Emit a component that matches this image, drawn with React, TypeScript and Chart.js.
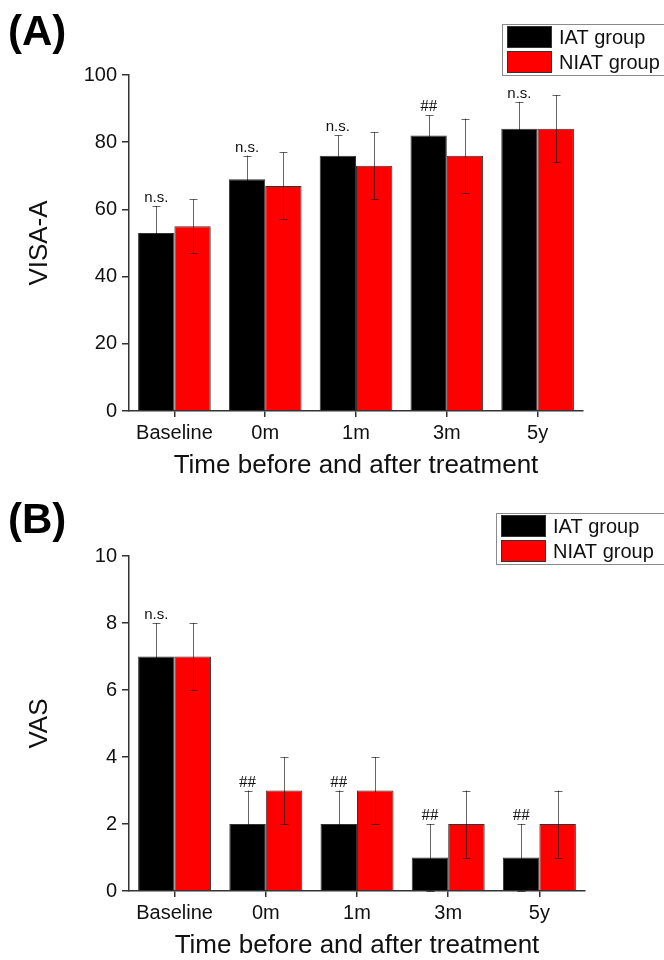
import React, { useEffect, useRef } from "react";
import { Chart, registerables } from "chart.js";

Chart.register(...registerables);

// ---------- data ----------
const categories = ["Baseline", "0m", "1m", "3m", "5y"];
const seriesNames = ["IAT group", "NIAT group"];
const seriesColors = ["#000000", "#FF0000"];
const xAxisTitle = "Time before and after treatment";

// Panel A: VISA-A
const visaIat = [53, 69, 76, 82, 84];
const visaIatErr = [8, 7, 6, 6, 8];
const visaNiat = [55, 67, 73, 76, 84];
const visaNiatErr = [8, 10, 10, 11, 10];
const visaMarks = ["n.s.", "n.s.", "n.s.", "##", "n.s."];

// Panel B: VAS
const vasIat = [7, 2, 2, 1, 1];
const vasIatErr = [1, 1, 1, 1, 1];
const vasNiat = [7, 3, 3, 2, 2];
const vasNiatErr = [1, 1, 1, 1, 1];
const vasMarks = ["n.s.", "##", "##", "##", "##"];

const FONT = "'Liberation Sans', Arial, sans-serif";
const SERIF = "'Liberation Serif', 'Times New Roman', serif";

type PanelCfg = {
  letter: string;
  letterY: number;
  yTitle: string;
  yMax: number;
  yStep: number;
  values: number[][];
  errors: number[][];
  marks: string[];
  padTop: number;
  padRight: number;
  legend: { x: number; y: number };
};

const panels: PanelCfg[] = [
  {
    letter: "(A)",
    letterY: 45,
    yTitle: "VISA-A",
    yMax: 100,
    yStep: 20,
    values: [visaIat, visaNiat],
    errors: [visaIatErr, visaNiatErr],
    marks: visaMarks,
    padTop: 75,
    padRight: 81,
    legend: { x: 502, y: 24 },
  },
  {
    letter: "(B)",
    letterY: 53,
    yTitle: "VAS",
    yMax: 10,
    yStep: 2,
    values: [vasIat, vasNiat],
    errors: [vasIatErr, vasNiatErr],
    marks: vasMarks,
    padTop: 76,
    padRight: 79,
    legend: { x: 496, y: 33 },
  },
];

function Panel({ cfg }: { cfg: PanelCfg }) {
  const ref = useRef<HTMLCanvasElement>(null);

  useEffect(() => {
    const canvas = ref.current;
    if (!canvas) return;

    const overlay = {
      id: "overlay",
      afterDatasetsDraw(chart: any) {
        const ctx = chart.ctx as CanvasRenderingContext2D;
        const yS = chart.scales.y;
        ctx.save();
        // error bars
        cfg.errors.forEach((errs, di) => {
          const meta = chart.getDatasetMeta(di);
          meta.data.forEach((bar: any, i: number) => {
            const v = cfg.values[di][i];
            const top = yS.getPixelForValue(v + errs[i]);
            const bot = yS.getPixelForValue(v - errs[i]);
            const x = Math.round(bar.x) + 0.5;
            ctx.strokeStyle = "rgba(0,0,0,0.6)";
            ctx.lineWidth = 1;
            ctx.beginPath();
            ctx.moveTo(x, top);
            ctx.lineTo(x, bot);
            ctx.moveTo(x - 4, Math.round(top) + 0.5);
            ctx.lineTo(x + 4, Math.round(top) + 0.5);
            ctx.moveTo(x - 4, Math.round(bot) + 0.5);
            ctx.lineTo(x + 4, Math.round(bot) + 0.5);
            ctx.stroke();
          });
        });
        // significance marks
        const meta0 = chart.getDatasetMeta(0);
        cfg.marks.forEach((m, i) => {
          const bar = meta0.data[i];
          const top = yS.getPixelForValue(cfg.values[0][i] + cfg.errors[0][i]);
          ctx.font = m === "##" ? `17px ${SERIF}` : `15px ${FONT}`;
          ctx.fillStyle = "#111";
          ctx.textAlign = "center";
          ctx.textBaseline = "alphabetic";
          ctx.fillText(m, bar.x, top - 4);
        });
        ctx.restore();
      },
      afterDraw(chart: any) {
        const ctx = chart.ctx as CanvasRenderingContext2D;
        ctx.save();
        // panel letter
        ctx.font = `bold 42px ${FONT}`;
        ctx.fillStyle = "#000";
        ctx.textAlign = "left";
        ctx.textBaseline = "alphabetic";
        ctx.fillText(cfg.letter, 8, cfg.letterY);
        // legend
        const lg = cfg.legend;
        ctx.fillStyle = "#fff";
        ctx.fillRect(lg.x, lg.y, 180, 51);
        ctx.strokeStyle = "#8a8a8a";
        ctx.lineWidth = 1;
        ctx.strokeRect(lg.x + 0.5, lg.y + 0.5, 180, 51);
        chart.data.datasets.forEach((ds: any, i: number) => {
          const sy = lg.y + 2 + i * 25;
          ctx.fillStyle = ds.backgroundColor;
          ctx.fillRect(lg.x + 5, sy, 45, 22);
          ctx.strokeStyle = "#333";
          ctx.strokeRect(lg.x + 5.5, sy + 0.5, 44, 21);
          ctx.fillStyle = "#111";
          ctx.font = `20px ${FONT}`;
          ctx.textAlign = "left";
          ctx.textBaseline = "middle";
          ctx.fillText(ds.label, lg.x + 57, sy + 12);
        });
        ctx.restore();
      },
    };

    const chart = new Chart(canvas, {
      type: "bar",
      data: {
        labels: categories,
        datasets: cfg.values.map((vals, i) => ({
          label: seriesNames[i],
          data: vals,
          backgroundColor: seriesColors[i],
          borderColor: "#333",
          borderWidth: 1,
          categoryPercentage: 0.8,
          barPercentage: 1.0,
        })),
      },
      options: {
        responsive: false,
        animation: false,
        layout: { padding: { top: cfg.padTop, right: cfg.padRight, bottom: 0, left: 0 } },
        plugins: {
          legend: { display: false },
          tooltip: { enabled: false },
          title: { display: false },
        },
        scales: {
          x: {
            type: "category",
            offset: true,
            grid: {
              display: true,
              drawOnChartArea: false,
              drawTicks: true,
              tickLength: 6,
              offset: false,
              color: "#333",
              lineWidth: 1.5,
            },
            border: { display: true, color: "#333", width: 1.5 },
            ticks: {
              font: { family: FONT, size: 20 },
              color: "#111",
              padding: 4,
              maxRotation: 0,
              autoSkip: false,
            },
            title: {
              display: true,
              text: xAxisTitle,
              font: { family: FONT, size: 26, lineHeight: 1 },
              color: "#111",
              padding: { top: 0, bottom: 1 },
            },
            afterFit: (s: any) => {
              s.height = 69;
            },
          },
          y: {
            min: 0,
            max: cfg.yMax,
            grid: {
              display: true,
              drawOnChartArea: false,
              drawTicks: true,
              tickLength: 7,
              color: "#333",
              lineWidth: 1.5,
            },
            border: { display: true, color: "#333", width: 1.5 },
            ticks: {
              stepSize: cfg.yStep,
              font: { family: FONT, size: 20 },
              color: "#111",
              padding: 5,
            },
            title: {
              display: true,
              text: cfg.yTitle,
              font: { family: FONT, size: 26, lineHeight: 1 },
              color: "#111",
              padding: { top: 27, bottom: 0 },
            },
            afterFit: (s: any) => {
              s.width = 129;
            },
          },
        },
      },
      plugins: [overlay],
    } as any);

    return () => chart.destroy();
  }, [cfg]);

  return <canvas ref={ref} width={664} height={480} style={{ display: "block", width: 664, height: 480 }} />;
}

export default function App() {
  return (
    <div style={{ position: "absolute", left: 0, top: 0, width: 664, height: 960, background: "#fff" }}>
      {panels.map((p) => (
        <Panel key={p.letter} cfg={p} />
      ))}
    </div>
  );
}
